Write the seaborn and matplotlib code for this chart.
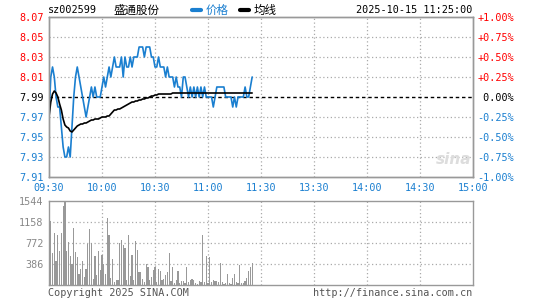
import matplotlib
matplotlib.use("Agg")
import matplotlib.pyplot as plt
import seaborn as sns
import pandas as pd
from matplotlib.lines import Line2D

sns.set_theme(style="white")
plt.rcParams['font.family'] = ['DejaVu Sans Mono', 'Noto Sans CJK SC']

# ---------------- data ----------------
minutes = list(range(116))  # minutes after 09:30 (09:30 .. 11:25)
price = [7.97, 8.01, 8.02, 8.01, 7.99, 7.98, 7.98, 7.96, 7.94, 7.93,
         7.93, 7.94, 7.93, 7.96, 7.99, 8.01, 8.02, 8.01, 8.00, 7.99,
         7.98, 7.97, 7.98, 7.99, 8.00, 7.99, 8.00, 7.99, 7.99, 7.99,
         8.00, 8.01, 8.00, 8.01, 8.02, 8.01, 8.02, 8.03, 8.02, 8.02,
         8.02, 8.03, 8.01, 8.03, 8.02, 8.02, 8.03, 8.02, 8.03, 8.03,
         8.03, 8.04, 8.04, 8.04, 8.03, 8.04, 8.04, 8.04, 8.03, 8.03,
         8.02, 8.02, 8.03, 8.02, 8.02, 8.02, 8.01, 8.02, 8.01, 8.01,
         8.01, 8.00, 8.01, 8.00, 8.00, 7.99, 8.01, 8.01, 8.00, 7.99,
         8.00, 7.99, 8.00, 7.99, 8.00, 7.99, 8.00, 7.99, 8.00, 7.99,
         7.99, 7.99, 7.99, 7.98, 7.99, 8.00, 8.00, 8.00, 8.00, 8.00,
         7.99, 7.99, 7.99, 7.99, 7.98, 7.99, 7.98, 7.99, 7.99, 7.99,
         7.99, 8.00, 7.99, 7.99, 8.00, 8.01]
avg_price = [7.970, 7.985, 7.993, 7.996, 7.994, 7.990, 7.983, 7.977, 7.968, 7.962,
             7.960, 7.959, 7.956, 7.955, 7.957, 7.959, 7.961, 7.962, 7.963, 7.963,
             7.964, 7.964, 7.965, 7.966, 7.967, 7.967, 7.968, 7.968, 7.968, 7.969,
             7.970, 7.970, 7.970, 7.971, 7.971, 7.973, 7.975, 7.977, 7.977, 7.978,
             7.978, 7.979, 7.980, 7.981, 7.982, 7.983, 7.984, 7.985, 7.985, 7.986,
             7.986, 7.987, 7.987, 7.988, 7.988, 7.989, 7.989, 7.990, 7.991, 7.991,
             7.992, 7.992, 7.993, 7.993, 7.993, 7.993, 7.993, 7.993, 7.993, 7.993,
             7.994, 7.994, 7.994, 7.994, 7.994, 7.994, 7.994, 7.994, 7.994, 7.994,
             7.994, 7.994, 7.994, 7.994, 7.994, 7.994, 7.994, 7.994, 7.994, 7.994,
             7.994, 7.994, 7.994, 7.994, 7.994, 7.994, 7.994, 7.994, 7.994, 7.994,
             7.994, 7.994, 7.994, 7.994, 7.994, 7.994, 7.994, 7.994, 7.994, 7.994,
             7.994, 7.994, 7.994, 7.994, 7.994, 7.994]
volume = [380, 1170, 580, 950, 450, 920, 620, 960, 1450, 1544,
          620, 790, 540, 380, 1040, 600, 520, 210, 290, 450,
          150, 290, 760, 1030, 770, 110, 530, 190, 620, 280,
          560, 380, 200, 1240, 920, 120, 470, 60, 100, 100,
          780, 830, 740, 680, 100, 910, 170, 550, 100, 800,
          640, 230, 230, 110, 50, 380, 340, 90, 150, 280,
          340, 60, 300, 250, 90, 110, 190, 240, 590, 80,
          330, 40, 100, 260, 40, 80, 80, 40, 340, 60,
          90, 110, 100, 30, 20, 70, 60, 910, 60, 540,
          40, 520, 60, 100, 80, 70, 60, 400, 60, 20,
          40, 200, 40, 20, 120, 200, 60, 40, 370, 40,
          40, 80, 120, 260, 330, 410]

prev_close = 7.99
price_ticks = [8.07, 8.05, 8.03, 8.01, 7.99, 7.97, 7.95, 7.93, 7.91]
price_labels = ['8.07', '8.05', '8.03', '8.01', '7.99', '7.97', '7.95', '7.93', '7.91']
pct_labels = ['+1.00%', '+0.75%', '+0.50%', '+0.25%', ' 0.00%',
              '-0.25%', '-0.50%', '-0.75%', '-1.00%']
time_ticks = [0, 30, 60, 90, 120, 150, 180, 210, 240]
time_labels = ['09:30', '10:00', '10:30', '11:00', '11:30', '13:30', '14:00', '14:30', '15:00']
vol_ticks = [386, 772, 1158, 1544]
vol_labels = ['386', '772', '1158', '1544']

code = 'sz002599'
name = '盛通股份'
stamp = '2025-10-15 11:25:00'

# ---------------- style ----------------
BLUE = '#1a7fd0'
RED = '#ff0000'
GRAY = '#999999'
GRID = '#aaaaaa'
FS = 7.3

W, H = 545, 300
fig = plt.figure(figsize=(W / 100, H / 100), dpi=100)
fig.patch.set_facecolor('white')

def fx(px):
    return px / W

def fy(py):
    return 1 - py / H

L, R = 49, 473
ax = fig.add_axes([fx(L), fy(177), fx(R - L), (177 - 17) / H])
axv = fig.add_axes([fx(L), fy(285), fx(R - L), (285 - 201) / H])

df = pd.DataFrame({'minute': minutes, 'price': price, 'avg': avg_price, 'volume': volume})

# ---------------- price panel ----------------
ax.set_xlim(0, 240)
ax.set_ylim(7.91, 8.07)
for t in time_ticks[1:-1]:
    ax.axvline(t, color=GRID, lw=0.9, ls=(0, (1, 2)), zorder=0)
for v in price_ticks[1:-1]:
    if abs(v - prev_close) > 1e-9:
        ax.axhline(v, color=GRID, lw=0.9, ls=(0, (1, 2)), zorder=0)
ax.axhline(prev_close, color='black', lw=1.0, ls=(0, (2.5, 2)), zorder=1)

sns.lineplot(data=df, x='minute', y='price', ax=ax, color=BLUE, lw=1.2,
             estimator=None, zorder=3)
sns.lineplot(data=df, x='minute', y='avg', ax=ax, color='black', lw=1.2,
             estimator=None, zorder=4)

ax.set_xlabel('')
ax.set_ylabel('')
ax.set_yticks(price_ticks)
ax.set_yticklabels(price_labels)
ax.set_xticks(time_ticks)
ax.set_xticklabels(time_labels)
ax.tick_params(axis='both', length=0, labelsize=FS)
ax.tick_params(axis='y', pad=4)
ax.tick_params(axis='x', pad=4, colors=BLUE)
for lab, v in zip(ax.get_yticklabels(), price_ticks):
    if v > prev_close + 1e-9:
        lab.set_color(RED)
    elif v < prev_close - 1e-9:
        lab.set_color(BLUE)
    else:
        lab.set_color('black')
for s in ax.spines.values():
    s.set_color(GRAY)
    s.set_linewidth(1.0)

axr = ax.twinx()
axr.set_ylim(7.91, 8.07)
axr.set_yticks(price_ticks)
axr.set_yticklabels(pct_labels)
axr.tick_params(axis='y', length=0, labelsize=FS, pad=3)
for lab, v in zip(axr.get_yticklabels(), price_ticks):
    if v > prev_close + 1e-9:
        lab.set_color(RED)
    elif v < prev_close - 1e-9:
        lab.set_color(BLUE)
    else:
        lab.set_color('black')
for s in axr.spines.values():
    s.set_color(GRAY)
    s.set_linewidth(1.0)
axr.grid(False)

# watermark
ax.text(0.995, 0.11, 'sina', transform=ax.transAxes, ha='right', va='center',
        fontsize=11, fontstyle='italic', fontweight='bold', color='#dddddd',
        family='DejaVu Sans', zorder=0)

# ---------------- volume panel ----------------
for t in time_ticks[1:-1]:
    axv.axvline(t, color=GRID, lw=0.9, ls=(0, (1, 2)), zorder=0)
for v in vol_ticks[:-1]:
    axv.axhline(v, color=GRID, lw=0.9, ls=(0, (1, 2)), zorder=0)
sns.barplot(data=df, x='minute', y='volume', ax=axv, native_scale=True,
            color=GRAY, width=0.7, saturation=1, linewidth=0, zorder=3)
axv.set_xlim(0, 240)
axv.set_ylim(0, 1544)
axv.set_xlabel('')
axv.set_ylabel('')
axv.set_xticks([])
axv.set_yticks(vol_ticks)
axv.set_yticklabels(vol_labels)
axv.tick_params(axis='y', length=0, labelsize=FS, pad=4, colors='#888888')
for s in axv.spines.values():
    s.set_color(GRAY)
    s.set_linewidth(1.0)

# ---------------- header ----------------
hy = fy(10)
fig.text(fx(48), hy, code, ha='left', va='center', fontsize=FS, color='black')
fig.text(fx(113), hy, name, ha='left', va='center', fontsize=8.3, color='black',
         family=['Noto Sans CJK SC', 'DejaVu Sans'])
fig.add_artist(Line2D([fx(192), fx(201)], [hy, hy], color=BLUE, lw=3, transform=fig.transFigure))
fig.text(fx(206), hy, '价格', ha='left', va='center', fontsize=8.3, color=BLUE,
         family=['Noto Sans CJK SC', 'DejaVu Sans'])
fig.add_artist(Line2D([fx(240), fx(249)], [hy, hy], color='black', lw=3, transform=fig.transFigure))
fig.text(fx(254), hy, '均线', ha='left', va='center', fontsize=8.3, color='black',
         family=['Noto Sans CJK SC', 'DejaVu Sans'])
fig.text(fx(472), hy, stamp, ha='right', va='center', fontsize=FS, color='black')

# ---------------- footer ----------------
fy_ = fy(293)
fig.text(fx(48), fy_, 'Copyright 2025 SINA.COM', ha='left', va='center', fontsize=FS, color='#555555')
fig.text(fx(472), fy_, 'http://finance.sina.com.cn', ha='right', va='center', fontsize=FS, color='#555555')

fig.savefig('out.png', dpi=100, facecolor='white')
